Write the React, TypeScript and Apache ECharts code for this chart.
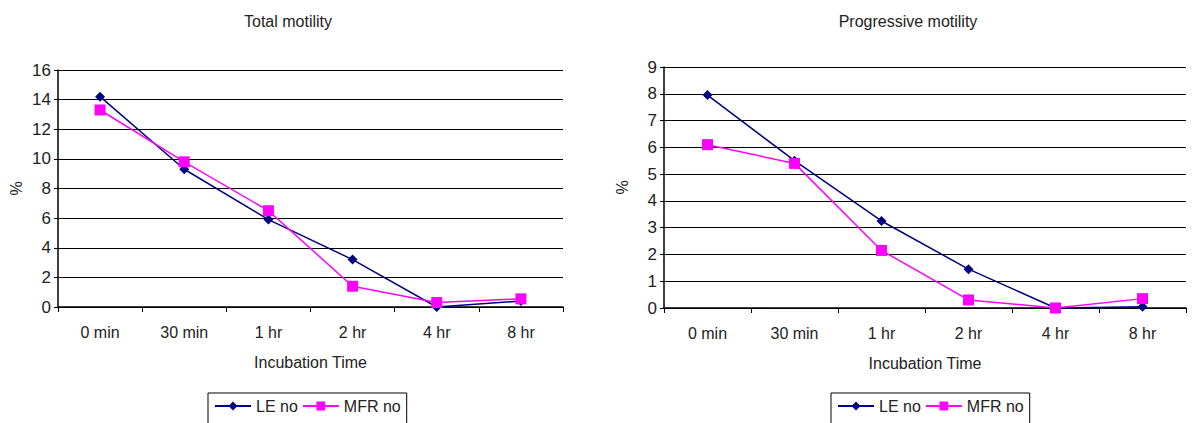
import React, { useEffect, useRef } from "react";
import * as echarts from "echarts";

const categories = ["0 min", "30 min", "1 hr", "2 hr", "4 hr", "8 hr"];
const totalLE = [14.2, 9.3, 5.9, 3.2, 0, 0.4];
const totalMFR = [13.3, 9.8, 6.5, 1.4, 0.3, 0.55];
const progLE = [7.95, 5.5, 3.25, 1.45, 0, 0.05];
const progMFR = [6.1, 5.4, 2.15, 0.3, 0, 0.35];
const titles = ["Total motility", "Progressive motility"];
const seriesNames = ["LE no", "MFR no"];

const FONT = "Liberation Sans, Arial, sans-serif";
const TXT = "#222";

export default function App() {
  const ref = useRef<HTMLDivElement>(null);
  useEffect(() => {
    document.body.style.margin = "0";
    const chart = echarts.init(ref.current!, null, { renderer: "svg" });
    const xAxis = (gi: number) => ({
      type: "category",
      gridIndex: gi,
      data: categories,
      boundaryGap: true,
      name: "Incubation Time",
      nameLocation: "middle",
      nameGap: 47,
      nameTextStyle: { color: TXT, fontSize: 16, fontFamily: FONT },
      axisLine: { lineStyle: { color: "#000", width: 1.5 } },
      axisTick: { show: true, inside: false, length: 5, lineStyle: { color: "#000" } },
      axisLabel: { color: TXT, fontSize: 16, fontFamily: FONT, margin: 17 },
      splitLine: { show: false },
    });
    const yAxis = (gi: number, max: number, interval: number) => ({
      type: "value",
      gridIndex: gi,
      min: 0,
      max,
      interval,
      name: "%",
      nameLocation: "middle",
      nameGap: 34,
      nameRotate: 90,
      nameTextStyle: { color: TXT, fontSize: 16, fontFamily: FONT },
      axisLine: { show: true, lineStyle: { color: "#000", width: 1.5 } },
      axisTick: { show: true, length: 4, lineStyle: { color: "#000" } },
      axisLabel: { color: TXT, fontSize: 17, fontFamily: FONT, margin: 7 },
      splitLine: { show: true, lineStyle: { color: "#000", width: 1.2 } },
    });
    const line = (name: string, data: number[], gi: number, le: boolean) => ({
      type: "line",
      name,
      xAxisIndex: gi,
      yAxisIndex: gi,
      data,
      symbol: le ? "diamond" : "rect",
      symbolSize: le ? 10 : 11,
      color: le ? "#000080" : "#FF00FF",
      lineStyle: { width: 1.5, color: le ? "#000080" : "#FF00FF" },
      itemStyle: { color: le ? "#000080" : "#FF00FF" },
    });
    const legend = (left: number) => ({
      left,
      top: 393,
      orient: "horizontal",
      data: seriesNames,
      itemWidth: 36,
      itemHeight: 11,
      itemGap: 4,
      borderColor: "#000",
      borderWidth: 1,
      borderRadius: 0,
      padding: [5, 6, 12, 6],
      textStyle: { color: TXT, fontSize: 16, fontFamily: FONT },
    });
    chart.setOption({
      animation: false,
      backgroundColor: "#fff",
      title: [
        { text: titles[0], left: 283, top: 8, textAlign: "center", textStyle: { color: TXT, fontSize: 16, fontWeight: "normal", fontFamily: FONT } },
        { text: titles[1], left: 903, top: 8, textAlign: "center", textStyle: { color: TXT, fontSize: 16, fontWeight: "normal", fontFamily: FONT } },
      ],
      legend: [legend(208), legend(831)],
      grid: [
        { left: 58, right: 630, top: 70, bottom: 116, containLabel: false },
        { left: 664, right: 7, top: 67, bottom: 115, containLabel: false },
      ],
      xAxis: [xAxis(0), xAxis(1)],
      yAxis: [yAxis(0, 16, 2), yAxis(1, 9, 1)],
      series: [
        line(seriesNames[0], totalLE, 0, true),
        line(seriesNames[1], totalMFR, 0, false),
        line(seriesNames[0], progLE, 1, true),
        line(seriesNames[1], progMFR, 1, false),
      ],
    });
    return () => chart.dispose();
  }, []);
  return <div ref={ref} style={{ width: 1193, height: 423 }} />;
}
